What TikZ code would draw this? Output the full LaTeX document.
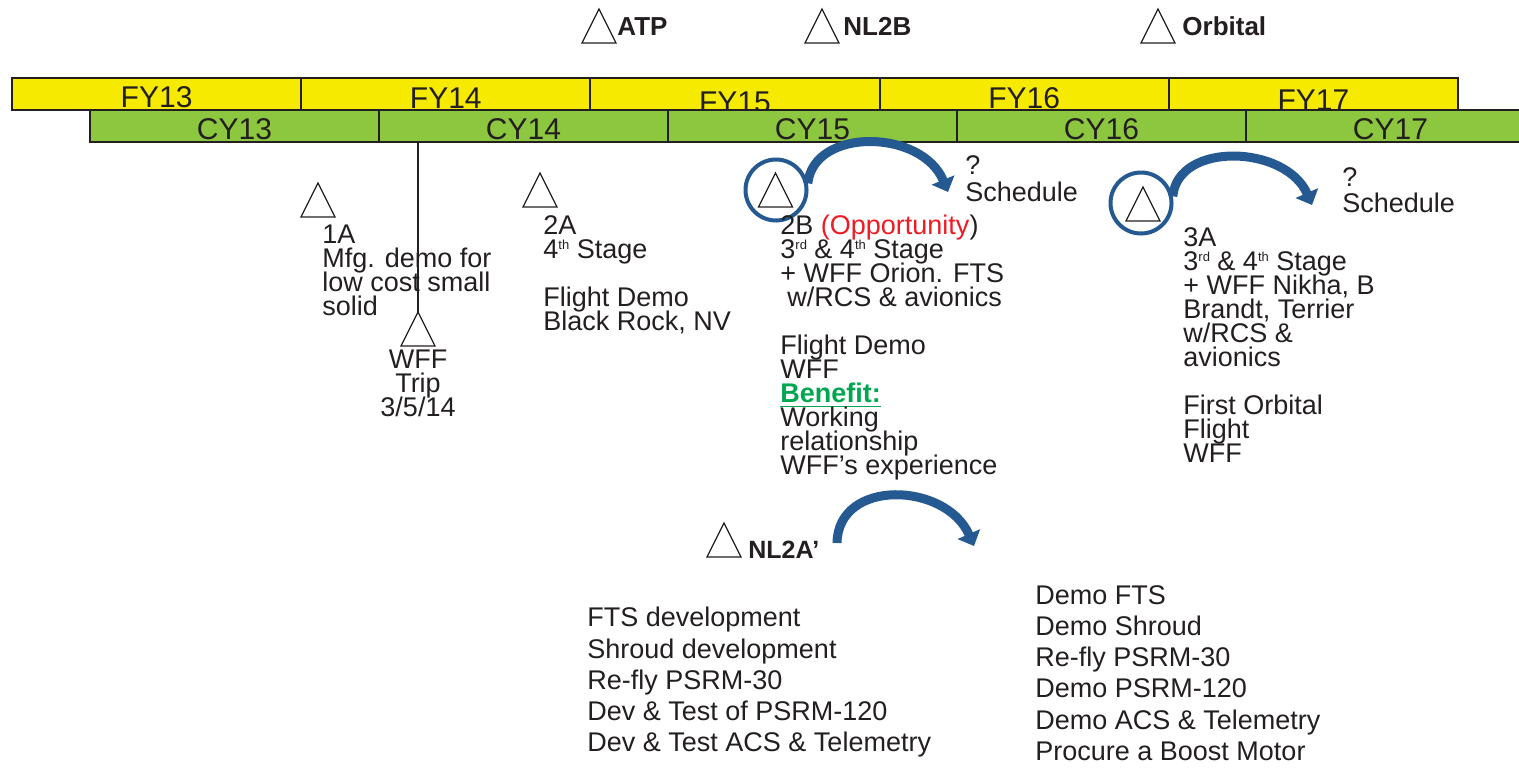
\documentclass[tikz,border=0pt]{standalone}
\usepackage{fontspec}
\setmainfont{Liberation Sans}
\usetikzlibrary{shapes.geometric}
\usetikzlibrary{arrows.meta}
\definecolor{fyyellow}{RGB}{246,234,0}
\definecolor{cygreen}{RGB}{141,198,63}
\definecolor{inkgray}{RGB}{35,31,32}
\definecolor{arcblue}{RGB}{37,89,145}
\definecolor{oppred}{RGB}{237,28,36}
\definecolor{bengreen}{RGB}{0,166,81}
\newcommand{\ordsup}[1]{\raisebox{4.5pt}{\fontsize{6.5}{6.5}\selectfont #1}}
\tikzset{ %bars, milestones and notes
  fybar/.style={draw=inkgray, line width=1pt, fill=fyyellow},
  cybar/.style={draw=inkgray, line width=1pt, fill=cygreen},
  barlabel/.style={font={\fontsize{15}{18}\selectfont}, text=inkgray, anchor=base, inner sep=0pt},
  mstone/.style={isosceles triangle, isosceles triangle stretches, shape border rotate=90,
    draw=inkgray, line width=0.6pt, minimum width=17pt, minimum height=17pt,
    inner sep=0pt, outer sep=0pt, anchor=apex},
  mlabel/.style={font={\fontsize{13}{16}\selectfont\bfseries}, text=inkgray, anchor=base west, inner sep=0pt},
  notes/.style={font={\fontsize{13.5}{12}\selectfont\lineskiplimit=-30pt}, text=inkgray,
    align=left, anchor=north west, inner sep=0pt},
  tasks/.style={notes, font={\fontsize{13.5}{15.6}\selectfont}},
  ring/.style={circle, draw=arcblue, line width=2pt, minimum size=30.5pt, inner sep=0pt},
  swoop/.style={draw=arcblue, line width=4.5pt, -{Triangle[length=6.5pt,width=12pt]}}
}

\begin{document}
\begin{tikzpicture}[x=0.5pt, y=-0.5pt]
\useasboundingbox (0,0) rectangle (1519,767);

% fiscal years
\foreach \yr/\base [count=\i from 0] in {13/107,14/108.5,15/112,16/108.5,17/110} {
  \draw[fybar] (12+289.2*\i,78) rectangle ++(289.2,32);
  \node[barlabel] (fy\yr) at (156.6+289.2*\i,\base) {FY\yr};
}
% calendar years
\foreach \yr [count=\i from 0] in {13,...,17} {
  \draw[cybar] (90+289*\i,110) rectangle ++(289,32);
  \node[barlabel] (cy\yr) at (234.5+289*\i,139) {CY\yr};
}
\coordinate (cybottom) at (0,142);

% top milestones
\node[mstone] (tATP) at (599,9) {};
\node[mlabel] (lATP) at (617,35) {ATP};
\node[mstone] (tNL2B) at (822,9) {};
\node[mlabel] (lNL2B) at (843,35) {NL2B};
\node[mstone] (tOrb) at (1158,9) {};
\node[mlabel] (lOrb) at (1182,35) {Orbital};

% 1A and WFF trip
\node[mstone] (t1A) at (318,183) {};
\node[notes] (n1A) at (322,225) {1A\\Mfg. demo for\\low cost small\\solid};
\node[mstone] (tWFF) at (418,312) {};
\draw[inkgray, line width=0.75pt] (tWFF.apex |- cybottom) -- (tWFF.apex);
\node[notes, anchor=north, align=center] (nWFF) at (418,350) {WFF\\Trip\\3/5/14};

% 2A
\node[mstone] (t2A) at (540,173) {};
\node[notes] (n2A) at (543,215) {2A\\4\ordsup{th} Stage\\[12pt]Flight Demo\\Black Rock, NV};

% 2B
\node[mstone] (t2B) at (775.5,173) {};
\node[ring] (c2B) at (776,190) {};
\coordinate (e2B) at (948,192);
\draw[swoop] (c2B.12) .. controls (814,127) and (922,129) .. (e2B);
\node[notes] (s2B) at (965,155) {?\\[1.5pt]Schedule};
\node[notes] (n2B) at (780,215) {2B \textcolor{oppred}{(Opportunity})\\
  3\ordsup{rd} \& 4\ordsup{th} Stage\\
  + WFF Orion. FTS\\
  \hspace*{3.5pt}w/RCS \& avionics\\[12pt]
  Flight Demo\\
  WFF\\
  \textcolor{bengreen}{\underline{\textbf{Benefit:}}}\\
  Working\\
  relationship\\
  WFF’s experience};

% 3A
\node[mstone] (t3A) at (1143,187) {};
\node[ring] (c3A) at (1141,203) {};
\coordinate (e3A) at (1312,205);
\draw[swoop] (c3A.12) .. controls (1178,141) and (1286,145) .. (e3A);
\node[notes] (s3A) at (1342,167) {?\\[1pt]Schedule};
\node[notes] (n3A) at (1183,227) {3A\\
  3\ordsup{rd} \& 4\ordsup{th} Stage\\
  + WFF Nikha, B\\
  Brandt, Terrier\\
  w/RCS \&\\
  avionics\\[12pt]
  First Orbital\\
  Flight\\
  WFF};

% NL2A'
\node[mstone] (tNL2A) at (724,523) {};
\node[mlabel, font={\fontsize{12.5}{15}\selectfont\bfseries}] (lNL2A) at (748,558) {NL2A’};
\coordinate (sNL2A) at (837,543);
\coordinate (eNL2A) at (974,546);
\draw[swoop] (sNL2A) .. controls (838,478) and (946,482) .. (eNL2A);

% task lists
\node[tasks] (devlist) at (587,607) {FTS development\\
  Shroud development\\
  Re-fly PSRM-30\\
  Dev \& Test of PSRM-120\\
  Dev \& Test ACS \& Telemetry};
\node[tasks] (demolist) at (1035,585) {Demo FTS\\
  Demo Shroud\\
  Re-fly PSRM-30\\
  Demo PSRM-120\\
  Demo ACS \& Telemetry\\
  Procure a Boost Motor};
\end{tikzpicture}
\end{document}
